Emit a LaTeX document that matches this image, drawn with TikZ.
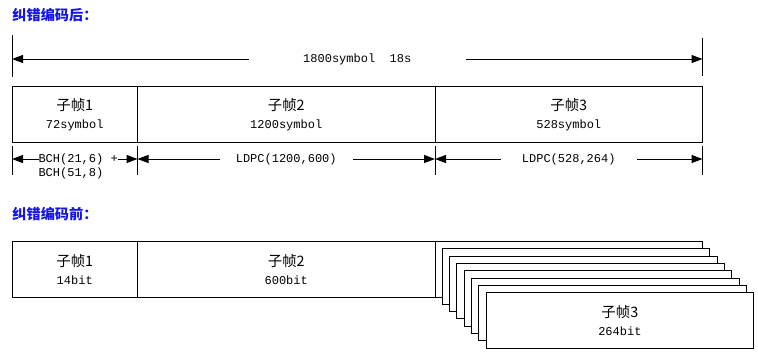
\documentclass[tikz,border=0pt]{standalone}
\usepackage{fontspec}
\setmainfont{Liberation Mono}
\newfontfamily\cjk[Scale=1.2]{Noto Sans CJK SC}
\usetikzlibrary{arrows.meta}
\definecolor{headblue}{RGB}{20,20,230}

\begin{document}
\begin{tikzpicture}[
    x=1pt, y=-1pt,
    line width=1pt,
    every node/.style={font=\fontsize{12}{18}\selectfont},
    subframe/.style={draw, fill=white, minimum width=267.5pt, minimum height=55.5pt,
                     inner sep=0pt, outer sep=0pt, anchor=north west, align=center},
    headline/.style={anchor=west, inner sep=0pt, text=headblue,
                     font=\fontsize{11.8}{14}\selectfont\cjk\bfseries},
    dimarrow/.style={{Triangle[length=11pt,width=8pt]}-{Triangle[length=11pt,width=8pt]}},
    dimlabel/.style={fill=white, inner sep=0pt, minimum height=12pt}
  ]
  \useasboundingbox (0,0) rectangle (758,357);

  % after coding
  \node[headline] (after) at (12,15) {纠错编码后：};

  \coordinate (t0) at (12,59);
  \coordinate (t1) at (702.5,59);
  \draw (t0) ++(0,-24) -- ++(0,42);
  \draw (t1) ++(0,-21) -- ++(0,38);
  \draw[dimarrow] (t0) -- node[dimlabel, minimum width=217pt] (total) {1800symbol\ \ 18s} (t1);

  \node[subframe, minimum width=125.5pt] (a1) at (12,86.5) {{\cjk 子帧1}\\72symbol};
  \node[subframe, minimum width=297.5pt] (a2) at (a1.north east) {{\cjk 子帧2}\\1200symbol};
  \node[subframe] (a3) at (a2.north east) {{\cjk 子帧3}\\528symbol};

  \coordinate (u0) at (12,159);
  \coordinate (u1) at (137.5,159);
  \coordinate (u2) at (435,159);
  \coordinate (u3) at (702.5,159);
  \foreach \c in {u0,u1,u2,u3}
    \draw (\c) ++(0,-13) -- ++(0,29);

  \draw[dimarrow] (u0) -- (u1);
  \node[dimlabel, anchor=west, align=left, font=\fontsize{12}{14}\selectfont]
    (bch) at (38,166) {BCH(21,6) +\\BCH(51,8)};
  \draw[dimarrow] (u1) -- node[dimlabel, minimum width=133pt] (ldpc1) {LDPC(1200,600)} (u2);
  \draw[dimarrow] (u2) -- node[dimlabel, minimum width=136pt] (ldpc2) {LDPC(528,264)} (u3);

  % before coding
  \node[headline] (before) at (12,214) {纠错编码前：};

  \node[subframe, minimum width=125.5pt] (b1) at (12,241.5) {{\cjk 子帧1}\\14bit};
  \node[subframe, minimum width=297.5pt] (b2) at (b1.north east) {{\cjk 子帧2}\\600bit};
  \foreach \i in {0,...,6}
    \node[subframe] (s\i) at (435+7.3*\i, 241.5+7.3*\i) {};
  \node[subframe] (s7) at (486.1,292.6) {{\cjk 子帧3}\\264bit};
\end{tikzpicture}
\end{document}
